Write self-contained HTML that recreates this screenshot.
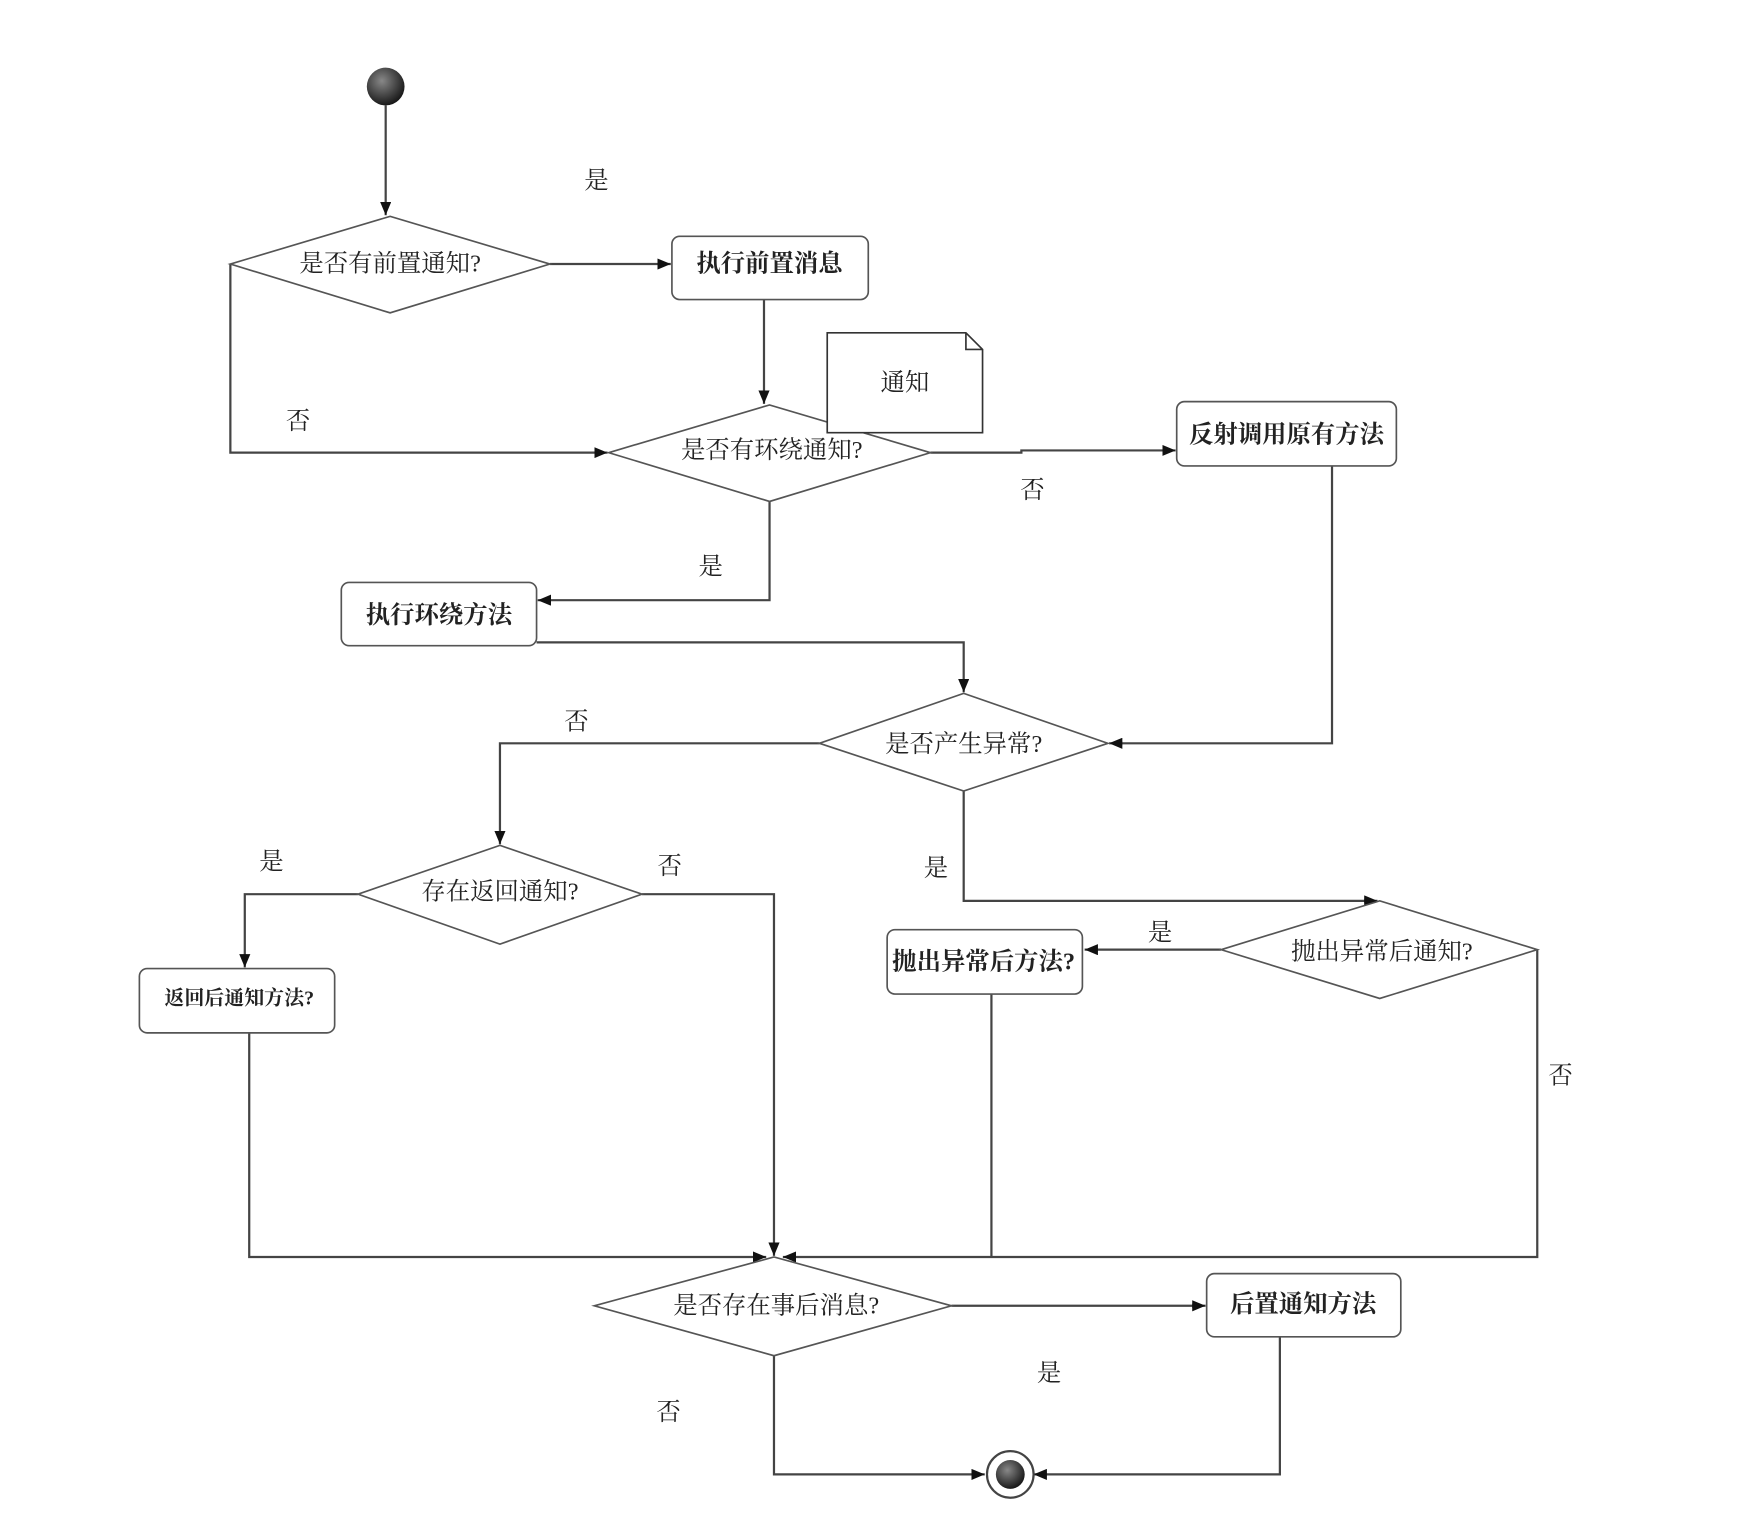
<!DOCTYPE html>
<html><head><meta charset="utf-8"><style>
html,body{margin:0;padding:0;background:#fff;}
svg{display:block;}
text{font-family:"Liberation Serif","Noto Serif CJK SC",serif;font-size:22px;fill:#222;text-anchor:middle;dominant-baseline:central;}
.b{font-weight:bold;}
</style></head><body>
<svg width="1741" height="1531" viewBox="0 0 1568 1380" xmlns="http://www.w3.org/2000/svg">
<defs>
<marker id="a" viewBox="0 0 12 10" refX="12" refY="5" markerWidth="12" markerHeight="10" markerUnits="userSpaceOnUse" orient="auto">
<path d="M0,0 L12,5 L0,10 Z" fill="#111"/><rect x="-4" y="3" width="4" height="4" fill="#111"/>
</marker>
<radialGradient id="g" cx="0.4" cy="0.35" r="0.7"><stop offset="0" stop-color="#888"/><stop offset="1" stop-color="#111"/></radialGradient>
</defs>
<g fill="none" stroke="#444" stroke-width="2">
<!-- start -->
<line x1="347" y1="95" x2="347" y2="194" marker-end="url(#a)"/>
<!-- d1 -> box1 -->
<line x1="495" y1="238" x2="604" y2="238" marker-end="url(#a)"/>
<!-- box1 -> d2 -->
<line x1="688" y1="270" x2="688" y2="364" marker-end="url(#a)"/>
<!-- d1 no -->
<polyline points="207,238 207,408 547,408" marker-end="url(#a)"/>
<!-- d2 no -->
<polyline points="838,408 920,408 920,406 1059,406" marker-end="url(#a)"/>
<!-- d2 yes -->
<polyline points="693,452 693,541 484,541" marker-end="url(#a)"/>
<!-- box surround -> d3 -->
<polyline points="483,579 868,579 868,624" marker-end="url(#a)"/>
<!-- reflect -> d3 -->
<polyline points="1200,420 1200,670 999,670" marker-end="url(#a)"/>
<!-- d3 no -->
<polyline points="738,670 450,670 450,761" marker-end="url(#a)"/>
<!-- d4 yes -->
<polyline points="322,806 220,806 220,872" marker-end="url(#a)"/>
<!-- d4 no -->
<polyline points="578,806 697,806 697,1132" marker-end="url(#a)"/>
<!-- d3 yes -->
<polyline points="868,713 868,812 1241,812" marker-end="url(#a)"/>
<!-- d6 yes -->
<line x1="1100" y1="856" x2="977" y2="856" marker-end="url(#a)"/>
<!-- d6 no -->
<polyline points="1385,856 1385,1133 705,1133" marker-end="url(#a)"/>
<line x1="893" y1="896" x2="893" y2="1133"/>
<polyline points="224,931 224,1133 690,1133" marker-end="url(#a)"/>
<!-- d5 yes -->
<line x1="857" y1="1177" x2="1086" y2="1177" marker-end="url(#a)"/>
<!-- d5 no -->
<polyline points="697,1222 697,1329 887,1329" marker-end="url(#a)"/>
<polyline points="1153,1205 1153,1329 931,1329" marker-end="url(#a)"/>
</g>
<g fill="#fff" stroke="#555" stroke-width="1.5">
<polygon points="207,238 351,195 495,238 351,282"/>
<polygon points="548,408 693,365 838,408 693,452"/>
<polygon points="738,670 868,625 998,670 868,713"/>
<polygon points="322,806 450,762 578,806 450,851"/>
<polygon points="1100,856 1243,812 1385,856 1243,900"/>
<polygon points="535,1177 697,1133 857,1177 697,1222"/>
<rect x="605" y="213" width="177" height="57" rx="7"/>
<rect x="1060" y="362" width="198" height="58" rx="7"/>
<rect x="307" y="525" width="176" height="57" rx="7"/>
<rect x="125" y="873" width="176" height="58" rx="7"/>
<rect x="799" y="838" width="176" height="58" rx="7"/>
<rect x="1087" y="1148" width="175" height="57" rx="7"/>
<path d="M745,390 L745,300 L870,300 L885,315 L885,390 Z M870,300 L870,315 L885,315" stroke="#333"/>
</g>
<circle cx="347" cy="78" r="17" fill="url(#g)"/>
<circle cx="910" cy="1329" r="21" fill="#fff" stroke="#444" stroke-width="2"/>
<circle cx="910" cy="1329" r="13" fill="url(#g)"/>
<text x="351" y="238">是否有前置通知?</text>
<text x="693" y="238" class="b">执行前置消息</text>
<text x="815" y="345">通知</text>
<text x="695" y="406">是否有环绕通知?</text>
<text x="1159" y="392" class="b">反射调用原有方法</text>
<text x="395" y="555" class="b">执行环绕方法</text>
<text x="868" y="671">是否产生异常?</text>
<text x="450" y="804">存在返回通知?</text>
<text x="215" y="900" class="b" style="font-size:18px">返回后通知方法?</text>
<text x="886" y="867" class="b">抛出异常后方法?</text>
<text x="1245" y="858">抛出异常后通知?</text>
<text x="699" y="1177">是否存在事后消息?</text>
<text x="1174" y="1176" class="b">后置通知方法</text>
<text x="537" y="163">是</text>
<text x="268" y="380">否</text>
<text x="930" y="442">否</text>
<text x="640" y="511">是</text>
<text x="519" y="651">否</text>
<text x="244" y="777">是</text>
<text x="603" y="781">否</text>
<text x="843" y="783">是</text>
<text x="1045" y="841">是</text>
<text x="1406" y="970">否</text>
<text x="945" y="1238">是</text>
<text x="602" y="1273">否</text>
</svg>
</body></html>
